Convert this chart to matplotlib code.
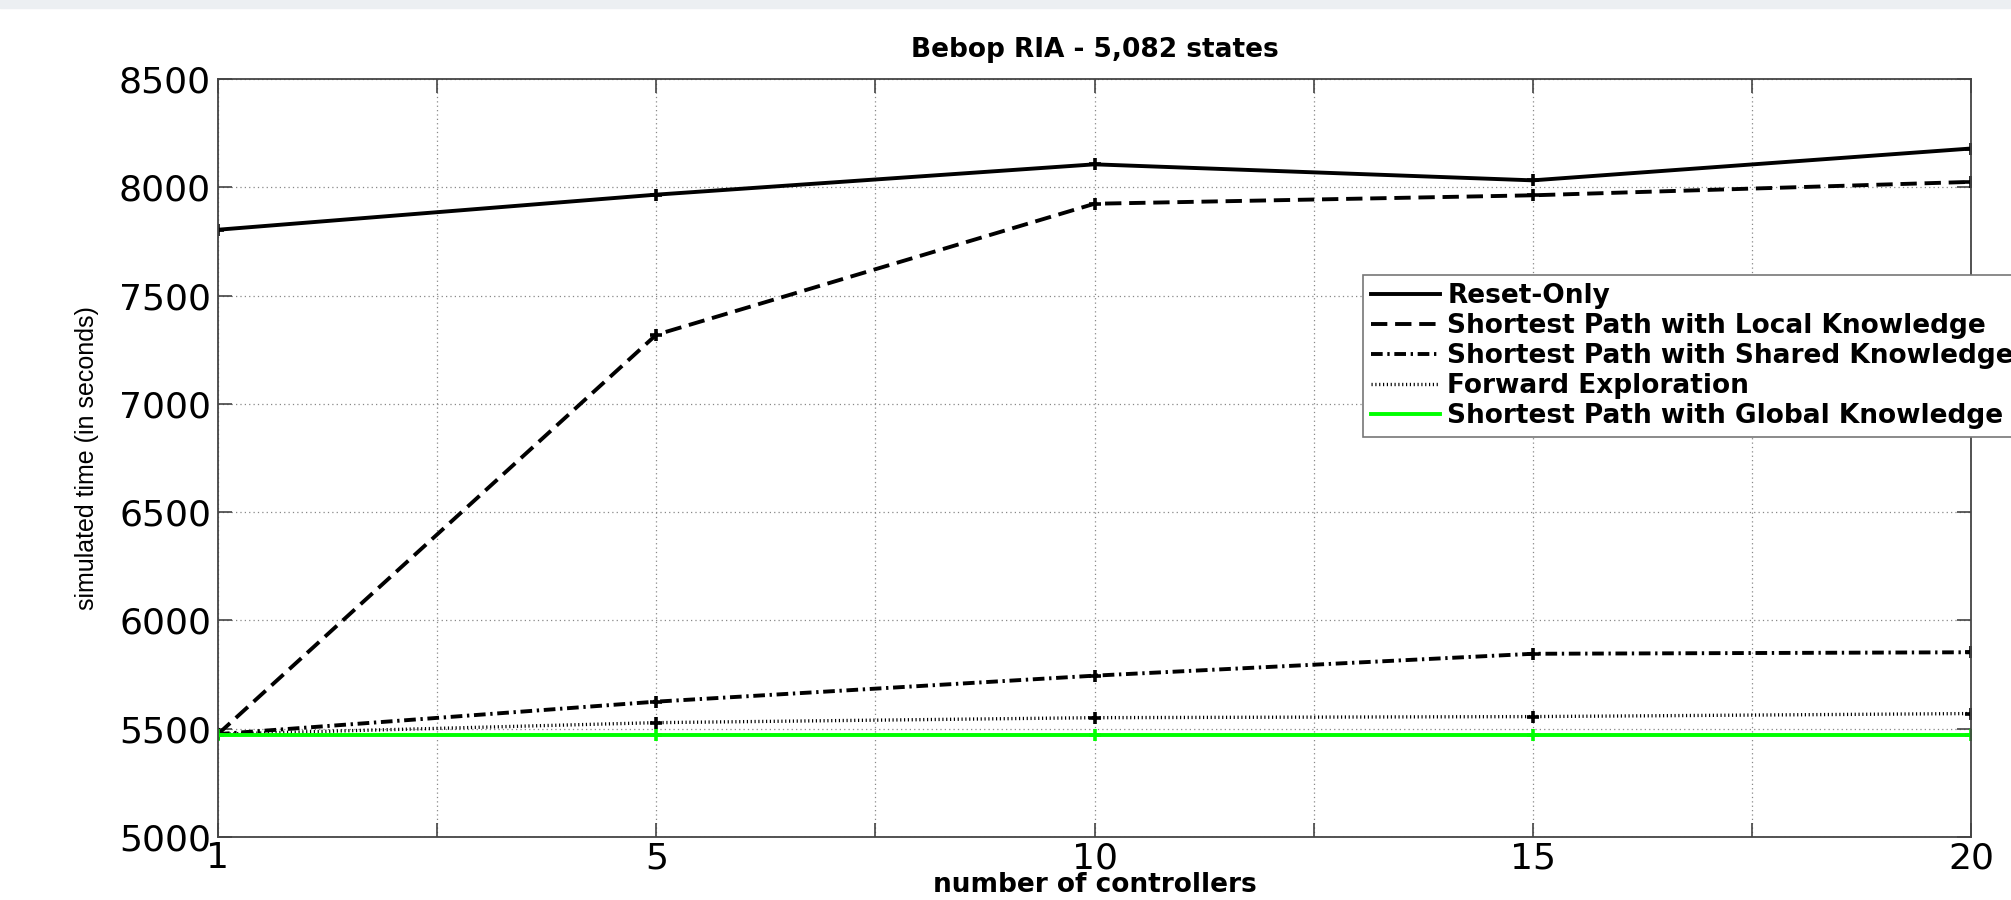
import numpy as np, matplotlib; matplotlib.use("Agg")
import matplotlib.pyplot as plt
from matplotlib.patches import Rectangle

# ---- data ----
controllers = [1, 5, 10, 15, 20]
reset_only = [7804, 7966, 8106, 8032, 8179]
local_know = [5475, 7319, 7924, 7963, 8025]
shared_know = [5475, 5625, 5745, 5846, 5853]
forward_exp = [5475, 5528, 5551, 5556, 5570]
global_know = [5471, 5471, 5471, 5471, 5471]
labels = ["Reset-Only", "Shortest Path with Local Knowledge",
          "Shortest Path with Shared Knowledge", "Forward Exploration",
          "Shortest Path with Global Knowledge"]
yticks = [5000, 5500, 6000, 6500, 7000, 7500, 8000, 8500]

fig = plt.figure(figsize=(20.11, 9), dpi=100)
fig.patches.append(Rectangle((0, 1 - 8/900), 1, 8/900, transform=fig.transFigure,
                             color="#eceff2", zorder=0))
ax = fig.add_axes([218/2011, 1 - 837/900, (1971-218)/2011, (837-79)/900])

pos = np.arange(len(controllers))
lw = 2.8; mk = dict(marker="+", ms=9, mew=2.6)
ax.plot(pos, reset_only, "-", color="black", lw=lw, label=labels[0], **mk)
ax.plot(pos, local_know, color="black", lw=lw, dashes=(4.2, 2.0), label=labels[1], **mk)
ax.plot(pos, shared_know, color="black", lw=lw, dashes=(3.0, 1.2, 0.6, 1.2), label=labels[2], **mk)
ax.plot(pos, forward_exp, color="black", lw=2.4, dashes=(0.35, 0.8), label=labels[3], **mk)
ax.plot(pos, global_know, "-", color="#00ff00", lw=lw, label=labels[4], **mk)

ax.set_xlim(0, len(controllers) - 1)
ax.set_ylim(yticks[0], yticks[-1])
xt = np.arange(0, len(controllers) - 0.9, 0.5)
ax.set_xticks(xt)
ax.set_xticklabels([str(controllers[int(t)]) if t == int(t) else "" for t in xt])
ax.set_yticks(yticks)
ax.grid(True, color="#888888", lw=0.9, dashes=(1, 2.5))
ax.tick_params(direction="in", length=10, width=1.2, color="#444444",
               top=True, right=True, labelsize=26, pad=5)
ax.tick_params(axis="x", pad=3)
for lab in ax.get_xticklabels() + ax.get_yticklabels():
    lab.set_family("DejaVu Sans")
for s in ax.spines.values():
    s.set_color("#444444"); s.set_linewidth(1.3)

ax.set_title("Bebop RIA - 5,082 states", fontsize=19, fontweight="bold",
             family="DejaVu Sans", pad=16)
ax.set_xlabel("number of controllers", fontsize=19, fontweight="bold",
              family="DejaVu Sans", labelpad=-2)
ax.set_ylabel("simulated time (in seconds)", fontsize=18,
              family="Liberation Sans", labelpad=14)

leg = ax.legend(loc="upper left", bbox_to_anchor=(1363/2011, 1 - 275/900),
                bbox_transform=fig.transFigure, borderaxespad=0,
                prop=dict(family="DejaVu Sans", weight="bold", size=19),
                handlelength=2.6, handletextpad=0.3, labelspacing=0.15,
                borderpad=0.3, fancybox=False, framealpha=1, edgecolor="#777777")
leg.get_frame().set_linewidth(1.2)
for h in leg.legend_handles:
    h.set_marker("")

fig.savefig("out.png", dpi=100)
